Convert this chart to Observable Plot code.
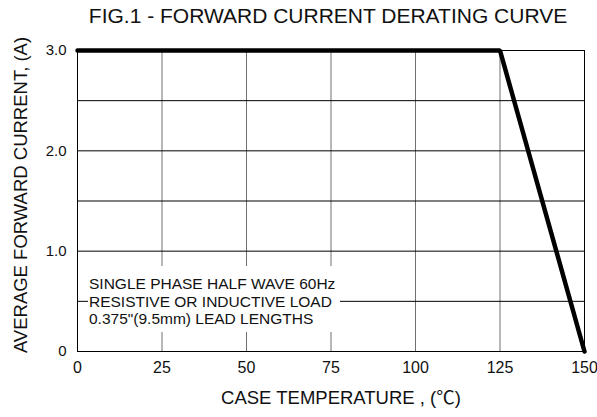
<!DOCTYPE html>
<html>
<head>
<meta charset="utf-8">
<script src="https://cdn.jsdelivr.net/npm/d3@7"></script>
<script src="https://cdn.jsdelivr.net/npm/@observablehq/plot@0.6"></script>
<style>
  html, body { margin: 0; padding: 0; background: #fff; }
  #wrap { position: relative; width: 597px; height: 417px; font-family: "Liberation Sans", Arial, sans-serif; color: #111; }
  #title { position: absolute; left: 0; top: 1px; width: 656px; height: 30px; line-height: 30px; text-align: center; font-size: 21px; white-space: nowrap; }
  #chart { position: absolute; left: 0; top: 30px; }
  #note { position: absolute; left: 88px; top: 266px; width: 252px; height: 66px; background: #fff; box-sizing: border-box; padding: 9.25px 0 0 1px; font-size: 15.5px; line-height: 17.5px; white-space: nowrap; }
  svg { overflow: visible; }
</style>
</head>
<body>
<div id="wrap">
  <div id="chart"></div>
  <div id="note"></div>
  <div id="title"></div>
</div>
<script>
// ---- data ----
const titleText = "FIG.1 - FORWARD CURRENT DERATING CURVE";
const xTitle = "CASE TEMPERATURE , (\u2103)";
const yTitle = "AVERAGE FORWARD CURRENT, (A)";
const noteLines = ["SINGLE PHASE HALF WAVE 60Hz", "RESISTIVE OR INDUCTIVE LOAD", "0.375\"(9.5mm) LEAD LENGTHS"];

const caseTemp = [0, 125, 150];          // °C
const fwdCurrent = [3.0, 3.0, 0];        // A

const xTicks = [0, 25, 50, 75, 100, 125, 150];
const xTickLabels = ["0", "25", "50", "75", "100", "125", "150"];
const yTicks = [0, 1, 2, 3];
const yTickLabels = ["0", "1.0", "2.0", "3.0"];
const yGridTicks = [0, 0.5, 1, 1.5, 2, 2.5, 3];

// ---- build ----
const data = caseTemp.map((t, i) => ({t, a: fwdCurrent[i]}));

document.getElementById("title").textContent = titleText;
document.getElementById("note").innerHTML = noteLines.map(s => s.replace(/&/g,"&amp;").replace(/</g,"&lt;")).join("<br>");

const chart = Plot.plot({
  width: 597,
  height: 387,
  marginLeft: 77,
  marginRight: 13,
  marginTop: 20,
  marginBottom: 66,
  style: {fontFamily: "Liberation Sans, Arial, sans-serif", color: "#111", background: "#fff", overflow: "visible"},
  x: {domain: [0, 150]},
  y: {domain: [0, 3]},
  marks: [
    Plot.gridX({ticks: xTicks, stroke: "#707070", strokeOpacity: 1, strokeWidth: 1}),
    Plot.gridY({ticks: yGridTicks, stroke: "#000", strokeOpacity: 1, strokeWidth: 1}),
    Plot.frame({stroke: "#000", strokeWidth: 1}),
    Plot.axisX({ticks: xTicks, tickFormat: d => xTickLabels[xTicks.indexOf(d)], tickSize: 0, tickPadding: 10, fontSize: 16, label: null}),
    Plot.axisY({ticks: yTicks, tickFormat: d => yTickLabels[yTicks.indexOf(d)], tickSize: 0, tickPadding: 11, fontSize: 15, label: null}),
    Plot.line(data, {x: "t", y: "a", stroke: "#000", strokeWidth: 4.5, strokeLinecap: "round", strokeLinejoin: "miter"}),
    Plot.text([xTitle], {text: d => d, frameAnchor: "bottom", dx: 10, dy: 52, fontSize: 18.5, fontFamily: "Liberation Sans, Noto Sans CJK SC, sans-serif", textAnchor: "middle", fill: "#111"}),
    Plot.text([yTitle], {text: d => d, frameAnchor: "left", dx: -56, dy: -6, rotate: -90, fontSize: 18.5, textAnchor: "middle", fill: "#111"})
  ]
});
document.getElementById("chart").appendChild(chart);
</script>
</body>
</html>
